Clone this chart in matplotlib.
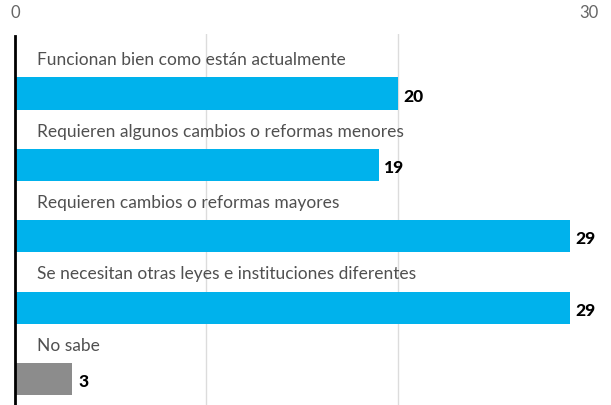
import matplotlib.pyplot as plt

# survey answers and percentages
categories = [
    "Funcionan bien como están actualmente",
    "Requieren algunos cambios o reformas menores",
    "Requieren cambios o reformas mayores",
    "Se necesitan otras leyes e instituciones diferentes",
    "No sabe",
]
values = [20, 19, 29, 29, 3]
bar_colors = ["#00b2ec", "#00b2ec", "#00b2ec", "#00b2ec", "#8c8c8c"]

fig = plt.figure(figsize=(6.11, 4.06), dpi=100)
ax = fig.add_axes([15 / 611, 0, (589 - 15) / 611, 1 - 35 / 406])

pos = list(range(len(values)))
ax.barh(pos, values, height=0.45, color=bar_colors, zorder=2)

for i, (cat, v) in enumerate(zip(categories, values)):
    ax.text(1.15, i - 0.48, cat, va="center", ha="left", fontsize=12.5,
            family="Lato", weight="normal", color="#505050", zorder=3)
    ax.text(v + 0.3, i + 0.03, str(v), va="center", ha="left", fontsize=12.5,
            family="Lato", weight="black", color="black", zorder=3)

ax.set_xlim(0, 30)
ax.set_ylim(4.364, -0.833)

# top ticks only for 0 and 30, grid every 10
ax.xaxis.tick_top()
ax.set_xticks([0, 30])
ax.set_xticklabels(["0", "30"], family="Lato", fontsize=12, color="#666666")
ax.tick_params(axis="x", length=0, pad=10)
ax.set_xticks([10, 20, 30], minor=True)
ax.tick_params(axis="x", which="minor", length=0)
ax.grid(axis="x", which="minor", color="#dcdcdc", linewidth=1, zorder=0)
ax.set_yticks([])
for s in ax.spines.values():
    s.set_visible(False)
ax.plot([0, 0], [4.364, -0.80], color="black", linewidth=2, zorder=4, clip_on=False)

plt.savefig("out.png", dpi=100)
